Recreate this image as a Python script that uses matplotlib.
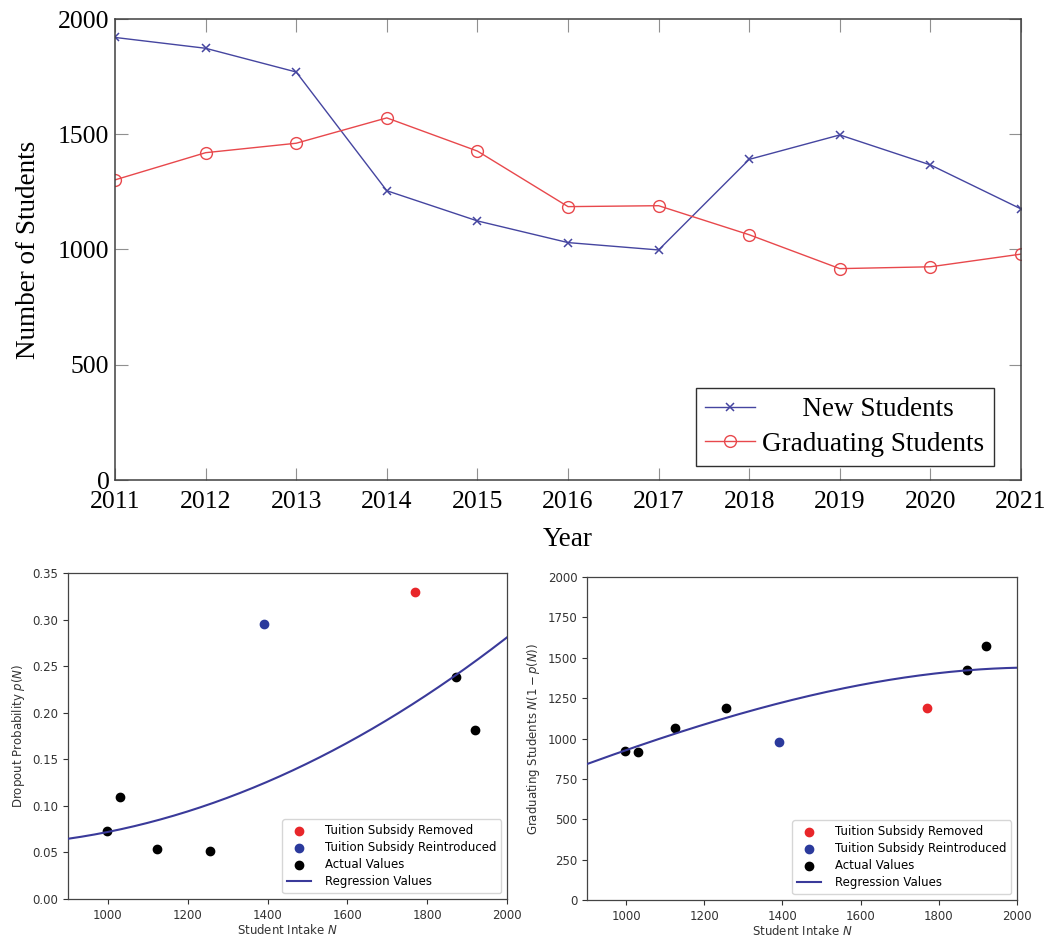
import numpy as np
import matplotlib
matplotlib.use('Agg')
import matplotlib.pyplot as plt

# yearly student numbers
YEARS = [2011, 2012, 2013, 2014, 2015, 2016, 2017, 2018, 2019, 2020, 2021]
NEW_STUDENTS = [1920, 1873, 1770, 1255, 1124, 1030, 998, 1391, 1497, 1367, 1176]
GRAD_STUDENTS = [1302, 1420, 1461, 1571, 1427, 1186, 1190, 1064, 917, 925, 980]

# a cohort graduates three years after intake
LAG = 3
REMOVED_YEAR = 2013
REINTRODUCED_YEAR = 2018

# quadratic regression of p(N), N in thousands
REG_COEF = [0.1097, -0.161, 0.1233]

BLUE = '#4545a0'
RED = '#e8484c'
SERIF = ['Liberation Serif', 'DejaVu Serif']

fig = plt.figure(figsize=(10.49, 9.38), dpi=100)
W, H = 1049, 938


def axes_px(left, top, right, bottom):
    return fig.add_axes([left / W, 1 - bottom / H, (right - left) / W, (bottom - top) / H])


# ---- top chart: students per year ----
ax = axes_px(115, 19, 1021, 480)
ax.plot(YEARS, NEW_STUDENTS, color=BLUE, lw=1.0, marker='x', ms=6, mew=1.1,
        label='      New Students')
ax.plot(YEARS, GRAD_STUDENTS, color=RED, lw=1.0, marker='o', ms=8.5, mew=1.0,
        mfc='none', label='Graduating Students')
ax.set_xlim(2011, 2021)
ax.set_ylim(0, 2000)
ax.set_xticks(YEARS)
ax.set_yticks([0, 500, 1000, 1500, 2000])
ax.tick_params(direction='in', length=9, width=0.8, color='#909090',
               top=True, right=True, labelsize=18.5)
ax.tick_params(axis='x', pad=8)
ax.tick_params(axis='y', pad=4)
for lbl in ax.get_xticklabels() + ax.get_yticklabels():
    lbl.set_family(SERIF)
for sp in ax.spines.values():
    sp.set_color('#404040')
    sp.set_linewidth(1.1)
ax.set_xlabel('Year', family=SERIF, fontsize=19.5, labelpad=10)
ax.set_ylabel('Number of Students', family=SERIF, fontsize=19.5, labelpad=12)
leg = ax.legend(loc='lower right', bbox_to_anchor=(0.97, 0.03), borderaxespad=0,
                prop={'family': SERIF, 'size': 19.5},
                fancybox=False, edgecolor='#303030', framealpha=1,
                handlelength=1.85, handletextpad=0.25,
                borderpad=0.35, labelspacing=0.35)
leg.get_frame().set_linewidth(1.0)

# ---- cohort data for the bottom charts ----
intake = np.array(NEW_STUDENTS[:-LAG], dtype=float)
graduates = np.array(GRAD_STUDENTS[LAG:], dtype=float)
cohort_years = np.array(YEARS[:-LAG])
dropout = 1 - graduates / intake
is_removed = cohort_years == REMOVED_YEAR
is_reintro = cohort_years == REINTRODUCED_YEAR
is_actual = ~(is_removed | is_reintro)

n_grid = np.linspace(900, 2000, 200)
x_k = n_grid / 1000
p_reg = REG_COEF[0] + REG_COEF[1] * x_k + REG_COEF[2] * x_k ** 2
grad_reg = n_grid * (1 - p_reg)

SMALL = 8.5


def bottom_panel(axb, yvals, yreg):
    axb.scatter(intake[is_removed], yvals[is_removed], color='#e8262a', s=36,
                label='Tuition Subsidy Removed', zorder=3)
    axb.scatter(intake[is_reintro], yvals[is_reintro], color='#2b3a9c', s=36,
                label='Tuition Subsidy Reintroduced', zorder=3)
    axb.scatter(intake[is_actual], yvals[is_actual], color='black', s=36,
                label='Actual Values', zorder=3)
    axb.plot(n_grid, yreg, color='#3a3a9a', lw=1.5, label='Regression Values', zorder=4)
    axb.set_xlim(900, 2000)
    axb.set_xticks([1000, 1200, 1400, 1600, 1800, 2000])
    axb.tick_params(labelsize=SMALL, length=3.5, width=0.8, colors='#333333')
    for sp in axb.spines.values():
        sp.set_color('#444444')
        sp.set_linewidth(0.9)
    axb.set_xlabel('Student Intake $N$', fontsize=SMALL, color='#333333', labelpad=1)
    axb.legend(loc='lower right', fontsize=SMALL, handletextpad=1.2,
               labelspacing=0.35, borderpad=0.4)


axl = axes_px(68, 573, 507, 899)
bottom_panel(axl, dropout, p_reg)
axl.set_ylim(0, 0.35)
axl.set_yticks(np.arange(0, 0.351, 0.05))
axl.yaxis.set_major_formatter(matplotlib.ticker.FormatStrFormatter('%.2f'))
axl.set_ylabel('Dropout Probability $p(N)$', fontsize=SMALL, color='#333333')

axr = axes_px(587, 577, 1017, 900)
bottom_panel(axr, graduates, grad_reg)
axr.set_ylim(0, 2000)
axr.set_yticks(np.arange(0, 2001, 250))
axr.set_ylabel('Graduating Students $N(1-p(N))$', fontsize=SMALL, color='#333333')

fig.savefig('out.png', dpi=100)
